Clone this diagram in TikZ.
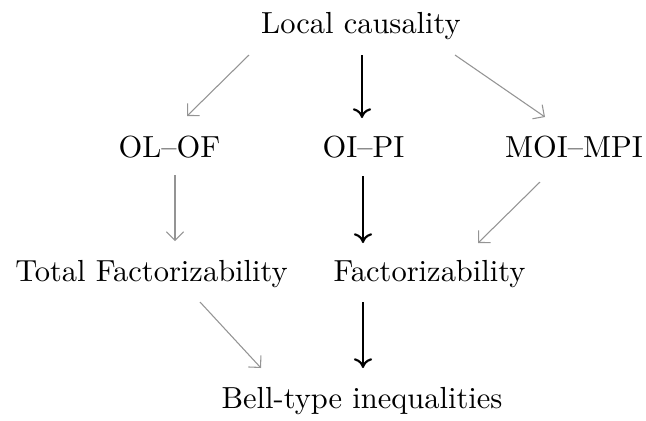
\documentclass[tikz,border=0pt]{standalone}
\usetikzlibrary{calc,arrows.meta}
\begin{document}
\begin{tikzpicture}[x=0.328pt,y=-0.328pt,
  lbl/.style={anchor=base,inner sep=0pt,font=\normalsize},
  garrow/.style={draw=black!42,line width=0.35pt,-{Straight Barb[length=2.8pt,width=5.6pt]}},
  barrow/.style={draw=black,line width=0.7pt,-{Computer Modern Rightarrow[length=3.2pt,width=6pt,line width=0.7pt]}}]
\useasboundingbox (0,0) rectangle (646,420);
\node[lbl] (lc) at (361,33) {Local causality};
\node[lbl] (olof) at (169.5,157) {OL--OF};
\node[lbl] (oipi) at (363.5,157) {OI--PI};
\node[lbl] (moi) at (574,157) {MOI--MPI};
\node[lbl] (tf) at (151.5,281) {Total Factorizability};
\node[lbl] (fact) at (429.5,281) {Factorizability};
\node[lbl] (bell) at (362,408) {Bell-type inequalities};
\draw[garrow] ($(lc.base)+(-112,22)$) -- ($(olof.base)+(17.5,-41)$);
\draw[barrow] ($(lc.base)+(1,22)$) -- ($(oipi.base)+(-1.5,-39)$);
\draw[garrow] ($(lc.base)+(94,22)$) -- ($(moi.base)+(-29,-40)$);
\draw[garrow] ($(olof.base)+(5.5,18)$) -- ($(tf.base)+(23.5,-40)$);
\draw[barrow] ($(oipi.base)+(-0.5,19)$) -- ($(fact.base)+(-66.5,-38)$);
\draw[garrow] ($(moi.base)+(-34,25)$) -- ($(fact.base)+(48.5,-38)$);
\draw[garrow] ($(tf.base)+(48.5,21)$) -- ($(bell.base)+(-101,-40)$);
\draw[barrow] ($(fact.base)+(-66.5,21)$) -- ($(bell.base)+(1,-40)$);
\end{tikzpicture}
\end{document}
